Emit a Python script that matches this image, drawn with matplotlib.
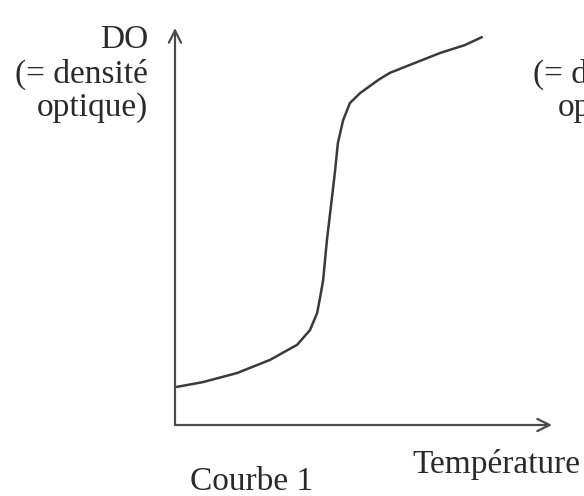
import matplotlib
matplotlib.use("Agg")
import matplotlib.pyplot as plt

# Optical density vs temperature (arbitrary units, 0-100 on both axes)
temperature = [0.5, 7.4, 16.5, 25.2, 32.4, 35.8, 37.7, 38.5, 39.3, 40.3,
               41.4, 42.4, 43.2, 44.6, 46.4, 49.1, 53.9, 57.0, 62.3, 70.3,
               76.9, 81.4]
density = [9.6, 10.8, 13.1, 16.4, 20.2, 23.9, 28.2, 32.2, 36.5, 46.6,
           55.4, 63.5, 71.0, 76.8, 81.1, 83.6, 86.9, 88.7, 90.7, 93.7,
           95.7, 97.7]

W, H = 584, 496
fig = plt.figure(figsize=(W / 100, H / 100), dpi=100)
fig.patch.set_facecolor("white")

left, right, bottom, top = 175, 552, 425, 28
ax = fig.add_axes([left / W, 1 - bottom / H, (right - left) / W, (bottom - top) / H])
ax.set_xlim(0, 100)
ax.set_ylim(0, 100)
ax.axis("off")

axis_col = "#4a4a4a"
arrow = dict(arrowstyle="->", lw=1.6, color=axis_col, mutation_scale=22,
             shrinkA=0, shrinkB=0)
ax.annotate("", xy=(1, 0), xytext=(0, 0), xycoords="axes fraction", arrowprops=arrow)
ax.annotate("", xy=(0, 1), xytext=(0, 0), xycoords="axes fraction", arrowprops=arrow)

ax.plot(temperature, density, color="#3a3a3a", lw=1.8, solid_capstyle="round",
        solid_joinstyle="round", clip_on=False)

font = dict(family="Liberation Serif", fontsize=24, color="#2a2a2a")

def label(px, py, s, ha):
    fig.text(px / W, 1 - py / H, s, ha=ha, va="center", **font)

label(148, 40, "DO", "right")
label(148, 74, "(= densité", "right")
label(148, 108, "optique)", "right")
label(533, 74, "(= densité", "left")
label(558, 108, "optique)", "left")
label(412, 464, "Température", "left")
label(190, 482, "Courbe 1", "left")

fig.savefig("out.png", dpi=100, facecolor="white")
